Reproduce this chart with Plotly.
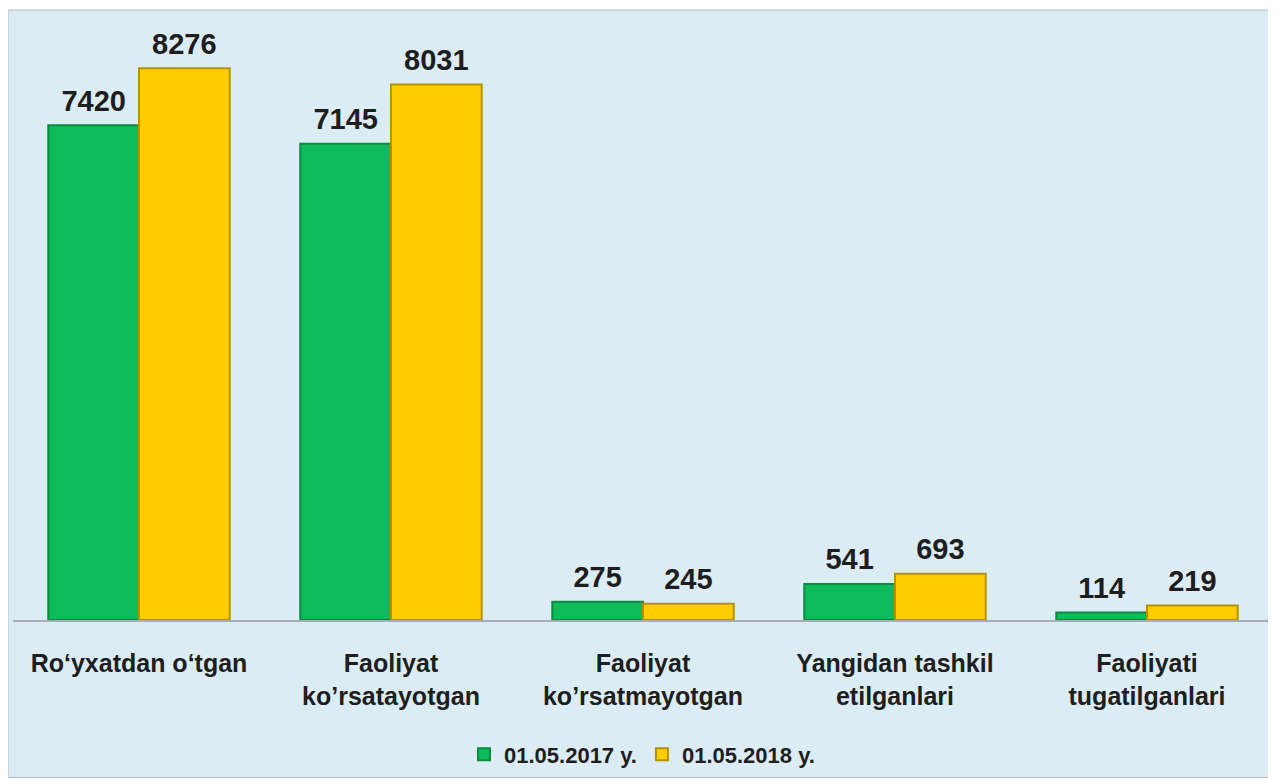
import plotly.graph_objects as go

categories = [
    "Ro\u2018yxatdan o\u2018tgan",
    "Faoliyat<br>ko\u2019rsatayotgan",
    "Faoliyat<br>ko\u2019rsatmayotgan",
    "Yangidan tashkil<br>etilganlari",
    "Faoliyati<br>tugatilganlari",
]
series_names = ["01.05.2017 y.", "01.05.2018 y."]
values_2017 = [7420, 7145, 275, 541, 114]
values_2018 = [8276, 8031, 245, 693, 219]

# page body has an 8px margin; figure sits at (8, 8)
W, H = 1268, 770
L, R, T, B = 5, 3, 12, 156
pw = W - L - R
ph = H - T - B

def px_x(px):
    return (px - L) / pw

def px_y(py):
    return (H - B - py) / ph

font_family = "Liberation Sans, Arial, sans-serif"
label_font = dict(family=font_family, size=29, color="#1E1E1E", weight="bold")

fig = go.Figure()
fig.add_trace(go.Bar(
    x=categories, y=values_2017, name=series_names[0], offsetgroup="a",
    marker=dict(color="#0DBB58", line=dict(color="#0B8A42", width=2)),
))
fig.add_trace(go.Bar(
    x=categories, y=values_2018, name=series_names[1], offsetgroup="b",
    marker=dict(color="#FFCC00", line=dict(color="#B39200", width=2)),
))
for vals, grp in ((values_2017, "a"), (values_2018, "b")):
    fig.add_trace(go.Scatter(
        x=categories, y=vals, offsetgroup=grp, mode="markers+text",
        text=[str(v) for v in vals], textposition="top center",
        marker=dict(size=10, color="rgba(0,0,0,0)"),
        textfont=label_font, showlegend=False, hoverinfo="skip", cliponaxis=False,
    ))

fig.add_shape(
    type="rect", xref="paper", yref="paper", layer="below",
    x0=px_x(0), x1=px_x(W + 2), y0=px_y(H + 2), y1=px_y(2),
    fillcolor="#DCECF4", line=dict(color="#B8BCC0", width=1),
)

fig.update_layout(
    width=W, height=H,
    margin=dict(l=L, r=R, t=T, b=B),
    paper_bgcolor="white", plot_bgcolor="rgba(0,0,0,0)",
    barmode="group", bargap=0.28, bargroupgap=0.0,
    scattermode="group", scattergap=0.28,
    font=dict(family=font_family, color="#1E1E1E"),
    showlegend=True,
    legend=dict(
        orientation="h", x=px_x(642 - 8), xanchor="center",
        y=px_y(757 - 8), yanchor="middle",
        font=dict(family=font_family, size=22, color="#1E1E1E", weight="bold"),
        bgcolor="rgba(0,0,0,0)", traceorder="normal",
    ),
    xaxis=dict(
        showline=True, linecolor="#A7ADB2", linewidth=2,
        ticks="outside", ticklen=20, tickcolor="rgba(0,0,0,0)",
        tickfont=dict(family=font_family, size=25, color="#1E1E1E", weight="bold"),
        showgrid=False, fixedrange=True,
    ),
    yaxis=dict(
        range=[0, 9000], visible=False, showgrid=False, zeroline=False,
    ),
)

fig.write_html("out.html")
